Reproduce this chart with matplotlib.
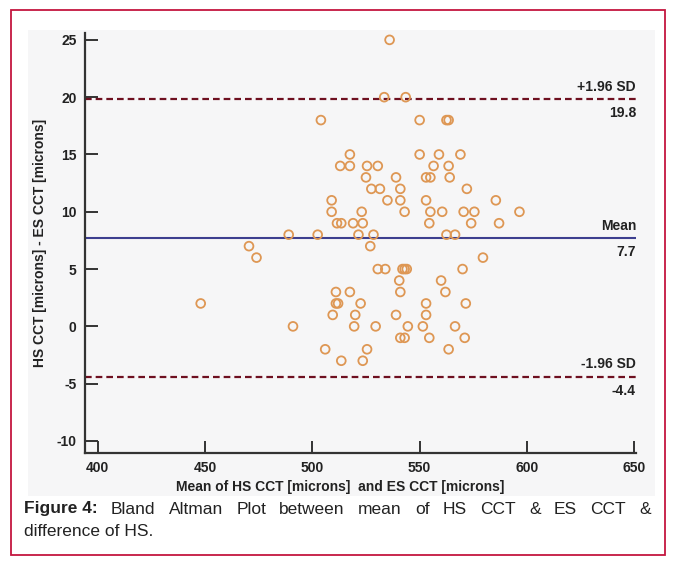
import matplotlib
matplotlib.use("Agg")
import matplotlib.pyplot as plt
from matplotlib.patches import Rectangle
from matplotlib.transforms import blended_transform_factory

# 数据: 每个差值 (HS-ES) 对应的均值点
diff_levels = [25, 20, 18, 15, 14, 13, 12, 11, 10, 9, 8, 7, 6, 5, 4, 3, 2, 1, 0, -1, -2, -3]
mean_cct = [
    [536],
    [533.5, 543.5],
    [504, 550, 562.5, 563.5],
    [517.5, 550, 559, 569],
    [513, 517.5, 525.5, 530.5, 556.5, 563.5],
    [525, 539, 553, 555, 564],
    [527.5, 531.5, 541, 572],
    [509, 535, 541, 553, 585.5],
    [509, 523, 543, 555, 560.5, 570.5, 575.5, 596.5],
    [511.5, 513.5, 519, 523.5, 554.5, 574, 587],
    [489, 502.5, 521.5, 528.5, 562.5, 566.5],
    [470.5, 527],
    [474, 579.5],
    [530.5, 534, 542, 543, 544, 570],
    [540.5, 560],
    [511, 517.5, 541, 562],
    [448, 511, 512, 522.5, 553, 571.5],
    [509.5, 520, 539, 553],
    [491, 519.5, 529.5, 544.5, 551.5, 566.5],
    [541, 543, 554.5, 571],
    [506, 525.5, 563.5],
    [513.5, 523.5],
]
mean_diff = 7.7
upper_loa = 19.8
lower_loa = -4.4
x_ticks = [400, 450, 500, 550, 600, 650]
y_ticks = [-10, -5, 0, 5, 10, 15, 20, 25]

xs, ys = [], []
for d, row in zip(diff_levels, mean_cct):
    for m in row:
        xs.append(m)
        ys.append(d)

W, H = 675, 564
plt.rcParams['font.family'] = ['Liberation Sans', 'DejaVu Sans']
plt.rcParams['axes.unicode_minus'] = False
fig = plt.figure(figsize=(W / 100, H / 100), dpi=100)

def fx(px):
    return px / W

def fy(py):
    return 1 - py / H

# 外框和图区底色
fig.patches.append(Rectangle((fx(11), fy(555)), fx(654), (555 - 10) / H, transform=fig.transFigure,
                             fill=False, edgecolor='#c4163f', linewidth=1.3, zorder=-20))
fig.patches.append(Rectangle((fx(28), fy(496)), fx(627), (496 - 30) / H, transform=fig.transFigure,
                             facecolor='#f6f6f7', edgecolor='none', zorder=-20))

ax = fig.add_axes([fx(85), fy(453), fx(636 - 85), (453 - 33) / H])
ax.set_facecolor('none')
ax.set_xlim(394.1, 650.8)
ax.set_ylim(-11.05, 25.6)

ax.scatter(xs, ys, s=40, facecolors='none', edgecolors='#de9754', linewidths=1.3, zorder=3)

ax.axhline(mean_diff, color='#3d3f8f', linewidth=1.5, zorder=2)
for v in (upper_loa, lower_loa):
    ax.axhline(v, color='#6e1020', linewidth=1.6, linestyle=(0, (3, 1.8)), zorder=2)

tr = blended_transform_factory(ax.transAxes, ax.transData)
line_labels = [('+1.96 SD', upper_loa), ('Mean', mean_diff), ('-1.96 SD', lower_loa)]
for name, v in line_labels:
    ax.annotate(name, (1, v), xycoords=tr, xytext=(0, 4), textcoords='offset points',
                ha='right', va='bottom', fontsize=10, fontweight='bold', color='#222222')
    ax.annotate(f'{v:.1f}', (1, v), xycoords=tr, xytext=(0, -5), textcoords='offset points',
                ha='right', va='top', fontsize=10, fontweight='bold', color='#222222')

for s in ('top', 'right'):
    ax.spines[s].set_visible(False)
for s in ('left', 'bottom'):
    ax.spines[s].set_linewidth(1.6)
    ax.spines[s].set_color('#333333')

ax.set_xticks(x_ticks)
ax.set_yticks(y_ticks)
ax.tick_params(direction='in', length=9, width=1.4, color='#333333', labelsize=10, pad=6)
for t in ax.get_xticklabels() + ax.get_yticklabels():
    t.set_fontweight('bold')
    t.set_color('#222222')

fig.text(fx(340), fy(487), 'Mean of HS CCT [microns]  and ES CCT [microns]', ha='center', va='center',
         fontsize=10, fontweight='bold', color='#222222')
fig.text(fx(40), fy(243), 'HS CCT [microns] - ES CCT [microns]', ha='center', va='center',
         rotation=90, fontsize=10, fontweight='bold', color='#222222')

# 图注 (首行两端对齐)
cap_size = 12.5
left_px, right_px, line1_y = 24, 651, 509
fig.canvas.draw()
r = fig.canvas.get_renderer()
head = fig.text(fx(left_px), fy(line1_y), 'Figure 4:', ha='left', va='center', fontsize=cap_size,
                fontweight='bold', color='#222222')
words = ['Bland', 'Altman', 'Plot', 'between', 'mean', 'of', 'HS', 'CCT', '&', 'ES', 'CCT', '&']
items = [head]
for w in words:
    items.append(fig.text(0, fy(line1_y), w, ha='left', va='center', fontsize=cap_size, color='#222222'))
widths = [t.get_window_extent(r).width for t in items]
gap = (right_px - left_px - sum(widths)) / (len(items) - 1)
cur = left_px
for t, wd in zip(items, widths):
    t.set_x(fx(cur))
    cur += wd + gap
fig.text(fx(left_px), fy(532), 'difference of HS.', ha='left', va='center', fontsize=cap_size, color='#222222')

fig.savefig('out.png', dpi=100)
